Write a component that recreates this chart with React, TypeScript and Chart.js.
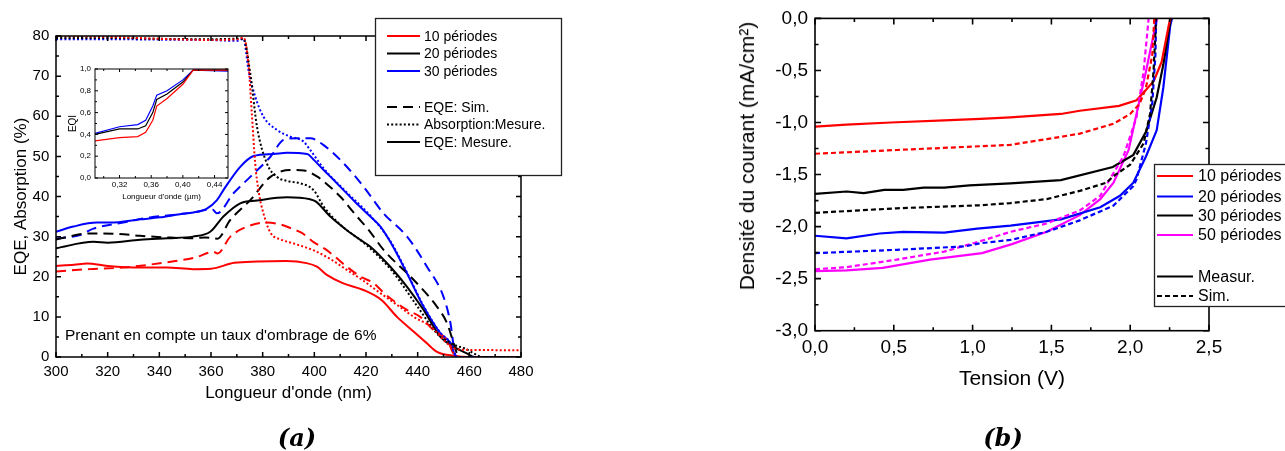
import React, { useEffect, useRef } from "react";
import { Chart, registerables } from "chart.js";

Chart.register(...registerables);

const SANS = "'Liberation Sans', Arial, Helvetica, sans-serif";
const RED = "#ff0000";
const BLACK = "#000000";
const BLUE = "#0000ff";
const MAGENTA = "#ff00ff";

// ---------------- Chart (a) : EQE / Absorption ----------------
const A_X_TICKS = [300, 320, 340, 360, 380, 400, 420, 440, 460, 480];
const A_Y_TICKS = [0, 10, 20, 30, 40, 50, 60, 70, 80];

const R10_MEAS_X = [300, 307, 312, 320, 333, 343, 353, 360, 369, 378, 389, 397, 401, 405, 411, 419, 426, 432, 438.5, 443.6, 447.5, 454, 460, 480];
const R10_MEAS_Y = [22.7, 23.0, 23.3, 22.7, 22.3, 22.3, 21.9, 22.0, 23.5, 23.8, 23.9, 23.4, 22.5, 20.4, 18.4, 16.7, 14.2, 10.0, 6.3, 3.4, 1.3, 0.3, 0, 0];
const R10_SIM_X = [300, 313, 326, 345, 354, 361, 362.5, 367.5, 374, 381.6, 387, 392, 395, 400, 404, 408, 412, 418, 423, 427, 432, 436, 441, 446, 451.4, 455, 480];
const R10_SIM_Y = [21.3, 21.9, 22.3, 23.8, 24.8, 26.2, 25.8, 30, 32.5, 33.5, 33, 31.8, 31, 28.5, 27, 25, 22.8, 20, 18.4, 15.9, 13.4, 11.7, 10, 6.8, 4.2, 0, 0];
const R10_ABS_X = [300, 320, 340, 360, 370, 372.6, 374.5, 375.8, 377.1, 378.5, 380.3, 383, 387, 392, 400, 406, 412.6, 419, 425.6, 432, 438.5, 445, 451.4, 454, 458, 480];
const R10_ABS_Y = [80, 79.8, 79.3, 79, 79.2, 79.6, 73, 60.7, 48.3, 41, 35.8, 31, 29.3, 28.3, 26.5, 24.5, 21.7, 19, 15.9, 13, 10, 7.6, 3.4, 2.2, 1.8, 1.7];

const K20_MEAS_X = [300, 314.5, 320, 332.6, 343, 353, 359.7, 364.8, 371.3, 377.8, 389.4, 398.4, 400.5, 406.2, 412.6, 417.8, 421.7, 429.4, 435.9, 442.3, 448.8, 454, 459, 462, 480];
const K20_MEAS_Y = [27.1, 28.7, 28.5, 29.2, 29.6, 30, 31.2, 35, 38.3, 39, 39.8, 39.3, 38.8, 35, 31.6, 29.2, 27.5, 22.5, 17.5, 11.7, 5, 2.5, 0.9, 0, 0];
const K20_SIM_X = [300, 313, 323.5, 332.6, 343, 352, 358, 362.5, 367.4, 375.2, 383, 390.7, 396, 401, 405, 410, 416.5, 421, 426.8, 438.5, 447.5, 451.4, 454, 456, 480];
const K20_SIM_Y = [29.3, 30.8, 30.7, 30.2, 29.8, 29.6, 29.8, 29.5, 34.1, 39.1, 44.9, 46.6, 46.5, 45, 43, 40, 35, 31.7, 26.7, 19.2, 12.5, 8.4, 3.3, 0, 0];
const K20_ABS_X = [300, 320, 340, 360, 370, 372.6, 375.2, 377.8, 381.6, 385.5, 390, 394.5, 399.7, 403.6, 410, 420, 430, 440, 448, 452, 455, 458, 462, 465, 480];
const K20_ABS_Y = [79.5, 79.5, 79.3, 79.2, 79.3, 79.3, 70.7, 57.4, 48.3, 44.9, 43.8, 43.3, 41.6, 37.5, 33, 28, 21.5, 12.5, 5.5, 3.8, 2.8, 2.2, 0.8, 0, 0];

const B30_MEAS_X = [300, 306.7, 315.8, 321, 332.6, 340.3, 348, 353.2, 358.4, 362.3, 364.8, 371.3, 376.5, 384.2, 389.4, 397.2, 400, 403.6, 407.5, 411.3, 416, 421.7, 425.6, 429.4, 435.9, 442.3, 448.8, 452.7, 455, 480];
const B30_MEAS_Y = [31.2, 32.5, 33.5, 33.5, 34.3, 34.8, 35.6, 36, 37, 39.1, 41.6, 47.4, 50.1, 50.6, 50.9, 50.6, 49, 46.6, 44.1, 41.6, 38.5, 35, 32.5, 28.7, 20.8, 12.5, 5.9, 3.4, 0, 0];
const B30_SIM_X = [300, 309.3, 314.5, 326, 336.4, 345.4, 353, 358.4, 360.5, 362.3, 368.7, 375.2, 383, 388.1, 393.3, 398.4, 403.6, 411.3, 419.1, 426.8, 435.9, 443.6, 450, 452.7, 454, 455, 480];
const B30_SIM_Y = [29.5, 30.4, 32, 33.5, 34.8, 35.4, 36, 36.7, 36.8, 35.8, 40.8, 44.9, 49.9, 54.1, 54.5, 54.5, 52.8, 48.3, 42.4, 35.8, 30, 22.5, 15, 8.4, 2.5, 0, 0];
const B30_ABS_X = [300, 320, 340, 360, 370, 372.6, 374.5, 377.1, 380.3, 385.5, 390.7, 395.8, 398.4, 403.6, 411.3, 421.7, 429.4, 435.9, 442.3, 448.8, 452.7, 455, 480];
const B30_ABS_Y = [79.2, 79.2, 79.1, 79, 78.8, 79.3, 71.5, 64.9, 59.9, 56.6, 54.9, 53.7, 51.6, 47, 41.8, 35.2, 28.9, 21, 12.7, 6, 3.5, 0, 0];

const A_LEGEND_LABELS = ["10 périodes", "20 périodes", "30 périodes", "EQE: Sim.", "Absorption:Mesure.", "EQE: Mesure."];
const A_NOTE = "Prenant en compte un taux d'ombrage de 6%";

// ---------------- Inset : EQI ----------------
const IN_X_TICKS = [0.32, 0.36, 0.4, 0.44];
const IN_Y_TICKS = [0, 0.2, 0.4, 0.6, 0.8, 1.0];
const IN_X = [0.289, 0.32, 0.343, 0.353, 0.362, 0.367, 0.38, 0.4, 0.413, 0.457];
const IN_BLUE_Y = [0.41, 0.47, 0.49, 0.53, 0.66, 0.76, 0.8, 0.9, 0.99, 0.98];
const IN_BLACK_Y = [0.4, 0.45, 0.45, 0.48, 0.6, 0.72, 0.77, 0.88, 0.99, 0.99];
const IN_RED_Y = [0.34, 0.37, 0.38, 0.42, 0.53, 0.66, 0.73, 0.86, 0.99, 0.99];

// ---------------- Chart (b) : J-V ----------------
const B_X_TICKS = [0, 0.5, 1.0, 1.5, 2.0, 2.5];
const B_Y_TICKS = [-3.0, -2.5, -2.0, -1.5, -1.0, -0.5, 0];

const P10_MEAS_V = [0, 0.2, 0.48, 0.82, 1.05, 1.24, 1.56, 1.68, 1.93, 2.04, 2.085, 2.15, 2.2, 2.244, 2.255];
const P10_MEAS_J = [-1.04, -1.02, -1.0, -0.98, -0.965, -0.95, -0.918, -0.887, -0.84, -0.786, -0.713, -0.6, -0.415, -0.07, 0];
const P10_SIM_V = [0, 0.52, 1.24, 1.47, 1.68, 1.894, 2.0, 2.06, 2.1, 2.14, 2.153];
const P10_SIM_J = [-1.3, -1.264, -1.215, -1.16, -1.107, -1.012, -0.918, -0.82, -0.666, -0.352, 0];

const P20_MEAS_V = [0, 0.2, 0.41, 0.56, 0.82, 1.03, 1.24, 1.56, 1.81, 1.935, 2.02, 2.1, 2.168, 2.21, 2.254, 2.265];
const P20_MEAS_J = [-2.088, -2.113, -2.066, -2.05, -2.057, -2.019, -1.99, -1.93, -1.814, -1.704, -1.578, -1.326, -1.075, -0.666, -0.07, 0];
const P20_SIM_V = [0, 0.52, 0.95, 1.05, 1.24, 1.47, 1.68, 1.894, 2.02, 2.04, 2.1, 2.14, 2.16, 2.165];
const P20_SIM_J = [-2.255, -2.223, -2.19, -2.16, -2.128, -2.05, -1.94, -1.798, -1.61, -1.547, -1.2, -0.82, -0.35, 0];

const P30_MEAS_V = [0, 0.2, 0.31, 0.44, 0.56, 0.69, 0.82, 0.98, 1.24, 1.56, 1.89, 2.02, 2.1, 2.168, 2.21, 2.254, 2.26];
const P30_MEAS_J = [-1.685, -1.663, -1.679, -1.647, -1.647, -1.625, -1.625, -1.604, -1.585, -1.553, -1.427, -1.311, -1.09, -0.76, -0.446, -0.03, 0];
const P30_SIM_V = [0, 0.52, 1.05, 1.24, 1.47, 1.68, 1.85, 1.894, 2.0, 2.085, 2.126, 2.148, 2.163, 2.165];
const P30_SIM_J = [-1.868, -1.824, -1.795, -1.774, -1.736, -1.657, -1.578, -1.515, -1.405, -1.2, -0.918, -0.51, -0.04, 0];

const P50_MEAS_V = [0, 0.2, 0.43, 0.73, 1.06, 1.25, 1.47, 1.68, 1.81, 1.894, 1.99, 2.04, 2.1, 2.16, 2.17];
const P50_MEAS_J = [-2.427, -2.42, -2.396, -2.317, -2.255, -2.168, -2.05, -1.89, -1.736, -1.578, -1.264, -0.918, -0.51, -0.07, 0];
const P50_SIM_V = [0, 0.2, 0.52, 0.82, 1.05, 1.24, 1.47, 1.68, 1.81, 1.87, 1.957, 2.04, 2.085, 2.117];
const P50_SIM_J = [-2.41, -2.39, -2.317, -2.24, -2.14, -2.05, -1.97, -1.845, -1.704, -1.547, -1.326, -0.95, -0.51, 0];

const B_LEGEND_LABELS = ["10 périodes", "20 périodes", "30 périodes", "50 périodes", "Measur.", "Sim."];

// ---------------- helpers ----------------
const pts = (xs: number[], ys: number[]) => xs.map((x, i) => ({ x, y: ys[i] }));

function minorValues(scale: any): number[] {
  const vals: number[] = scale.ticks.map((t: any) => t.value);
  if (vals.length < 2) return [];
  const step = vals[1] - vals[0];
  const out: number[] = [];
  const cands = [vals[0] - step / 2, ...vals.map((v) => v + step / 2)];
  for (const c of cands) {
    if (c >= scale.min - 1e-9 && c <= scale.max + 1e-9) out.push(c);
  }
  return out;
}

function makeFrame(lw: number, major: number, minor: number) {
  return {
    id: "frame",
    afterDatasetsDraw(chart: any) {
      const { ctx, chartArea: ca } = chart;
      const xs = chart.scales.x;
      const ys = chart.scales.y;
      ctx.save();
      ctx.strokeStyle = "#000";
      ctx.lineWidth = lw;
      ctx.setLineDash([]);
      ctx.beginPath();
      const xTick = (v: number, len: number) => {
        const p = xs.getPixelForValue(v);
        ctx.moveTo(p, ca.bottom);
        ctx.lineTo(p, ca.bottom - len);
        ctx.moveTo(p, ca.top);
        ctx.lineTo(p, ca.top + len);
      };
      const yTick = (v: number, len: number) => {
        const p = ys.getPixelForValue(v);
        ctx.moveTo(ca.left, p);
        ctx.lineTo(ca.left + len, p);
        ctx.moveTo(ca.right, p);
        ctx.lineTo(ca.right - len, p);
      };
      xs.ticks.forEach((t: any) => xTick(t.value, major));
      minorValues(xs).forEach((v) => xTick(v, minor));
      ys.ticks.forEach((t: any) => yTick(t.value, major));
      minorValues(ys).forEach((v) => yTick(v, minor));
      ctx.stroke();
      ctx.strokeRect(ca.left, ca.top, ca.right - ca.left, ca.bottom - ca.top);
      ctx.restore();
    },
  };
}

type LegItem = { label: string; color: string; dash: number[]; y: number };

function makeLegend(
  id: string,
  box: { x: number; y: number; w: number; h: number },
  line: { x0: number; x1: number; tx: number; lw: number },
  fontSize: number,
  items: LegItem[]
) {
  return {
    id,
    afterDraw(chart: any) {
      const ctx = chart.ctx;
      ctx.save();
      ctx.fillStyle = "#fff";
      ctx.fillRect(box.x, box.y, box.w, box.h);
      ctx.strokeStyle = "#222";
      ctx.lineWidth = 1.3;
      ctx.setLineDash([]);
      ctx.strokeRect(box.x, box.y, box.w, box.h);
      ctx.font = `${fontSize}px ${SANS}`;
      ctx.textBaseline = "middle";
      ctx.textAlign = "left";
      for (const it of items) {
        ctx.strokeStyle = it.color;
        ctx.lineWidth = line.lw;
        ctx.setLineDash(it.dash);
        ctx.beginPath();
        ctx.moveTo(line.x0, it.y);
        ctx.lineTo(line.x1, it.y);
        ctx.stroke();
        ctx.setLineDash([]);
        ctx.fillStyle = "#000";
        ctx.fillText(it.label, line.tx, it.y + 1);
      }
      ctx.restore();
    },
  };
}

const noGrid = { display: false, drawTicks: false };
const noBorder = { display: false };

const DASH_A = [10, 6];
const DOT_A = [2, 2.2];
const DASH_B = [5, 3];

export default function App() {
  const refA = useRef<HTMLCanvasElement>(null);
  const refIn = useRef<HTMLCanvasElement>(null);
  const refB = useRef<HTMLCanvasElement>(null);

  useEffect(() => {
    Chart.defaults.font.family = SANS;
    Chart.defaults.color = "#000";
    const charts: Chart[] = [];

    const lineDs = (data: any[], color: string, dash: number[], width: number, smooth: boolean) => ({
      data,
      borderColor: color,
      backgroundColor: color,
      borderDash: dash,
      borderWidth: width,
      pointRadius: 0,
      fill: false,
      tension: 0,
      cubicInterpolationMode: smooth ? "monotone" : "default",
    });

    // ---------- chart (a) ----------
    if (refA.current) {
      const legA = makeLegend(
        "legA",
        { x: 375.5, y: 18.5, w: 186, h: 157 },
        { x0: 387, x1: 420, tx: 424, lw: 2 },
        14,
        [
          { label: A_LEGEND_LABELS[0], color: RED, dash: [], y: 36 },
          { label: A_LEGEND_LABELS[1], color: BLACK, dash: [], y: 53.5 },
          { label: A_LEGEND_LABELS[2], color: BLUE, dash: [], y: 71 },
          { label: A_LEGEND_LABELS[3], color: BLACK, dash: DASH_A, y: 107 },
          { label: A_LEGEND_LABELS[4], color: BLACK, dash: DOT_A, y: 124.5 },
          { label: A_LEGEND_LABELS[5], color: BLACK, dash: [], y: 142 },
        ]
      );
      charts.push(
        new Chart(refA.current, {
          type: "line",
          data: {
            datasets: [
              lineDs(pts(R10_ABS_X, R10_ABS_Y), RED, DOT_A, 2, true),
              lineDs(pts(K20_ABS_X, K20_ABS_Y), BLACK, DOT_A, 2, true),
              lineDs(pts(B30_ABS_X, B30_ABS_Y), BLUE, DOT_A, 2, true),
              lineDs(pts(R10_SIM_X, R10_SIM_Y), RED, DASH_A, 2, true),
              lineDs(pts(K20_SIM_X, K20_SIM_Y), BLACK, DASH_A, 2, true),
              lineDs(pts(B30_SIM_X, B30_SIM_Y), BLUE, DASH_A, 2, true),
              lineDs(pts(R10_MEAS_X, R10_MEAS_Y), RED, [], 2, true),
              lineDs(pts(K20_MEAS_X, K20_MEAS_Y), BLACK, [], 2, true),
              lineDs(pts(B30_MEAS_X, B30_MEAS_Y), BLUE, [], 2, true),
            ] as any,
          },
          options: {
            animation: false,
            responsive: false,
            events: [],
            layout: { padding: { left: 0, right: 119, top: 36, bottom: 0 } },
            plugins: { legend: { display: false }, tooltip: { enabled: false } },
            scales: {
              x: {
                type: "linear",
                min: 300,
                max: 480,
                afterBuildTicks: (s: any) => {
                  s.ticks = A_X_TICKS.map((v) => ({ value: v }));
                },
                afterFit: (s: any) => {
                  s.height = 94;
                },
                grid: noGrid,
                border: noBorder,
                ticks: { padding: 5.7, autoSkip: false, maxRotation: 0, font: { size: 15 }, color: "#000", callback: (v: any) => String(v) },
                title: { display: true, text: "Longueur d'onde (nm)", font: { size: 17 }, color: "#000", padding: { top: 0, bottom: 47.8 } },
              },
              y: {
                type: "linear",
                min: 0,
                max: 80,
                afterBuildTicks: (s: any) => {
                  s.ticks = A_Y_TICKS.map((v) => ({ value: v }));
                },
                afterFit: (s: any) => {
                  s.width = 56;
                },
                grid: noGrid,
                border: noBorder,
                ticks: { padding: 6.7, autoSkip: false, font: { size: 15 }, color: "#000", callback: (v: any) => String(v) },
                title: { display: true, text: "EQE, Absorption (%)", font: { size: 17 }, color: "#000", padding: { top: 11, bottom: 0 } },
              },
            },
          } as any,
          plugins: [makeFrame(1.5, 5, 3), legA] as any,
        })
      );
    }

    // ---------- inset ----------
    if (refIn.current) {
      charts.push(
        new Chart(refIn.current, {
          type: "line",
          data: {
            datasets: [
              lineDs(pts(IN_X, IN_RED_Y), RED, [], 1.2, false),
              lineDs(pts(IN_X, IN_BLACK_Y), BLACK, [], 1.2, false),
              lineDs(pts(IN_X, IN_BLUE_Y), BLUE, [], 1.2, false),
            ] as any,
          },
          options: {
            animation: false,
            responsive: false,
            events: [],
            layout: { padding: { left: 0, right: 12, top: 9, bottom: 0 } },
            plugins: { legend: { display: false }, tooltip: { enabled: false } },
            scales: {
              x: {
                type: "linear",
                min: 0.289,
                max: 0.457,
                afterBuildTicks: (s: any) => {
                  s.ticks = IN_X_TICKS.map((v) => ({ value: v }));
                },
                afterFit: (s: any) => {
                  s.height = 32;
                },
                grid: noGrid,
                border: noBorder,
                ticks: { padding: 1.5, autoSkip: false, maxRotation: 0, font: { size: 8 }, color: "#000", callback: (v: any) => Number(v).toFixed(2).replace(".", ",") },
                title: { display: true, text: "Longueur d'onde (µm)", font: { size: 8 }, color: "#000", padding: { top: 0, bottom: 8.5 } },
              },
              y: {
                type: "linear",
                min: 0,
                max: 1,
                afterBuildTicks: (s: any) => {
                  s.ticks = IN_Y_TICKS.map((v) => ({ value: v }));
                },
                afterFit: (s: any) => {
                  s.width = 35;
                },
                grid: noGrid,
                border: noBorder,
                ticks: { padding: 4, autoSkip: false, font: { size: 8 }, color: "#000", callback: (v: any) => Number(v).toFixed(1).replace(".", ",") },
                title: { display: true, text: "EQI", font: { size: 10 }, color: "#000", padding: { top: 7, bottom: 0 } },
              },
            },
          } as any,
          plugins: [makeFrame(1, 3, 2)] as any,
        })
      );
    }

    // ---------- chart (b) ----------
    if (refB.current) {
      const legB = makeLegend(
        "legB",
        { x: 514.5, y: 164.5, w: 200, h: 142 },
        { x0: 517, x1: 553, tx: 558, lw: 2.2 },
        16,
        [
          { label: B_LEGEND_LABELS[0], color: RED, dash: [], y: 176 },
          { label: B_LEGEND_LABELS[1], color: BLUE, dash: [], y: 196.5 },
          { label: B_LEGEND_LABELS[2], color: BLACK, dash: [], y: 215.5 },
          { label: B_LEGEND_LABELS[3], color: MAGENTA, dash: [], y: 235 },
          { label: B_LEGEND_LABELS[4], color: BLACK, dash: [], y: 276.5 },
          { label: B_LEGEND_LABELS[5], color: BLACK, dash: DASH_B, y: 296 },
        ]
      );
      charts.push(
        new Chart(refB.current, {
          type: "line",
          data: {
            datasets: [
              lineDs(pts(P10_SIM_V, P10_SIM_J), RED, DASH_B, 2.2, false),
              lineDs(pts(P30_SIM_V, P30_SIM_J), BLACK, DASH_B, 2.2, false),
              lineDs(pts(P20_SIM_V, P20_SIM_J), BLUE, DASH_B, 2.2, false),
              lineDs(pts(P50_SIM_V, P50_SIM_J), MAGENTA, DASH_B, 2.2, false),
              lineDs(pts(P10_MEAS_V, P10_MEAS_J), RED, [], 2.2, false),
              lineDs(pts(P30_MEAS_V, P30_MEAS_J), BLACK, [], 2.2, false),
              lineDs(pts(P20_MEAS_V, P20_MEAS_J), BLUE, [], 2.2, false),
              lineDs(pts(P50_MEAS_V, P50_MEAS_J), MAGENTA, [], 2.2, false),
            ] as any,
          },
          options: {
            animation: false,
            responsive: false,
            events: [],
            layout: { padding: { left: 0, right: 76, top: 12.7, bottom: 0 } },
            plugins: { legend: { display: false }, tooltip: { enabled: false } },
            scales: {
              x: {
                type: "linear",
                min: 0,
                max: 2.5,
                afterBuildTicks: (s: any) => {
                  s.ticks = B_X_TICKS.map((v) => ({ value: v }));
                },
                afterFit: (s: any) => {
                  s.height = 120.3;
                },
                grid: noGrid,
                border: noBorder,
                ticks: { padding: 5.4, autoSkip: false, maxRotation: 0, font: { size: 19 }, color: "#000", callback: (v: any) => Number(v).toFixed(1).replace(".", ",") },
                title: { display: true, text: "Tension (V)", font: { size: 21 }, color: "#000", padding: { top: 0, bottom: 59.4 } },
              },
              y: {
                type: "linear",
                min: -3,
                max: 0,
                afterBuildTicks: (s: any) => {
                  s.ticks = B_Y_TICKS.map((v) => ({ value: v }));
                },
                afterFit: (s: any) => {
                  s.width = 175;
                },
                grid: noGrid,
                border: noBorder,
                ticks: { padding: 7, autoSkip: false, font: { size: 19 }, color: "#000", callback: (v: any) => Number(v).toFixed(1).replace(".", ",") },
              },
            },
          } as any,
          plugins: [makeFrame(1.6, 6, 3.5), legB] as any,
        })
      );
    }

    return () => {
      charts.forEach((c) => c.destroy());
    };
  }, []);

  const abs = (s: React.CSSProperties): React.CSSProperties => ({ position: "absolute", whiteSpace: "nowrap", lineHeight: 1, color: "#000", ...s });

  return (
    <div style={{ position: "fixed", left: 0, top: 0, width: 1285, height: 451, background: "#fff", overflow: "hidden" }}>
      <canvas ref={refA} width={640} height={451} style={{ position: "absolute", left: 0, top: 0 }} />
      <canvas ref={refIn} width={180} height={150} style={{ position: "absolute", left: 60, top: 60 }} />
      <canvas ref={refB} width={645} height={451} style={{ position: "absolute", left: 640, top: 0 }} />
      <div style={abs({ left: 65, top: 335, transform: "translateY(-50%)", font: `15.5px ${SANS}` })}>{A_NOTE}</div>
      <div style={abs({ left: 747, top: 156, transform: "translate(-50%, -50%) rotate(-90deg)", font: `21px ${SANS}` })}>
        Densité du courant (mA/cm²)
      </div>
      <div style={abs({ left: 297, top: 437, transform: "translate(-50%, -50%)", font: `italic bold 24px 'DejaVu Serif', serif` })}>(a)</div>
      <div style={abs({ left: 1003, top: 437, transform: "translate(-50%, -50%)", font: `italic bold 24px 'DejaVu Serif', serif` })}>(b)</div>
    </div>
  );
}
